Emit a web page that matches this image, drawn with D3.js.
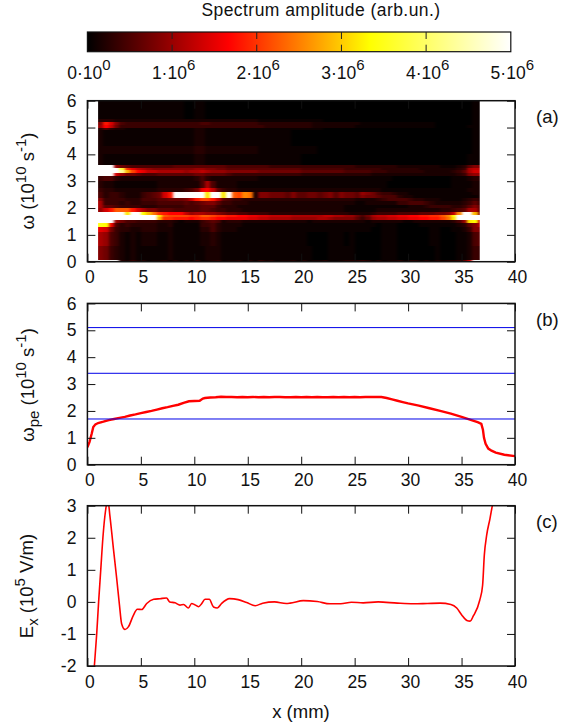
<!DOCTYPE html>
<html>
<head>
<meta charset="utf-8">
<script src="https://d3js.org/d3.v7.min.js"></script>
<style>
body { margin: 0; background: #fff; }
text { font-family: "Liberation Sans", Arial, sans-serif; fill: #111; }
</style>
</head>
<body>
<div id="chart"></div>
<script>
// ---- data ----
var xTicks = [0, 5, 10, 15, 20, 25, 30, 35, 40];
var omegaTicks = [0, 1, 2, 3, 4, 5, 6];
var fieldTicks = [-2, -1, 0, 1, 2, 3];
var barTicks = [0, 1e6, 2e6, 3e6, 4e6, 5e6];
var barExponents = [0, 6, 6, 6, 6, 6];

// spectrum: one row per omega band, one base-36 digit per column
// columns start at x = 1 mm and are 0.5 mm wide, blocks of 8 = 4 mm
var omegaEdges = [0, .08, .6, 1.1, 1.3, 1.45, 1.55, 1.65, 1.75, 1.85, 2, 2.13, 2.27, 2.38, 2.49, 2.6, 2.75, 3, 3.2, 3.3, 3.4, 3.5, 3.6, 4, 4.3, 4.9, 5, 5.1, 5.2, 5.3, 6];
var specRows = [
  "zzzz3242 31223131 31412341 22313142 31223131 22311233 34313122 31331313 23346czz",
  "87432121 11111211 11112221 11111111 11111111 00011111 00000111 00000001 00011244",
  "a9542121 22211211 11122321 11111111 11111110 00011101 00000111 00000011 00011256",
  "dc743322 33322211 11133532 22111111 11111111 11111111 11100111 00000011 00112488",
  "qpd53433 33322311 11144532 22211111 11111111 11111111 11110111 00001111 1112368b",
  "zzz97554 44433321 22245652 33322222 22222221 22222222 22122222 21122222 22359opc",
  "zzzzzzzz zzzmggff fefggfee ddddccbb aaaa9999 9aa98888 6469aabb ccddeeff hjozzzzz",
  "zzzzzzzz zzzoihhh hggiihgg ffeeddcc bbbbaaaa aabbaa99 757abbcc ddeeffgg ikpzzzzz",
  "zzzzzozz pmjgfeee b9aa9987 66554444 33333333 33333332 22234444 55556667 78bkzzm8",
  "9cfiiifc a8866655 55566544 33322222 22222222 22222211 11112222 22222222 33456aa6",
  "a6654444 33344444 55566643 33222222 22222222 22222211 11111111 11222344 44334686",
  "a4443433 44455555 65678864 43332222 22222222 22222222 11222222 44555432 22223464",
  "84444333 55566777 8bfhhfb6 54433333 33333333 33333333 22223455 55433222 11112343",
  "53443222 4567cfzz zzzzozzo zihkj288 77768667 76786877 68776555 32211111 11111112",
  "53443222 4567cfzz zzzzozzo zihkj288 77768667 76786877 69875443 22111111 11111122",
  "43322222 22233333 457deb64 33222222 22222222 22222222 22222111 11111111 11111222",
  "32211111 11122222 2225a522 22111111 11111111 11111111 11111100 00000000 00111122",
  "45532222 22222222 22353222 22222211 11111111 11111111 11111110 00000000 00111233",
  "zzzc9776 55566666 66776666 54444444 44444433 33333333 33322222 22222222 22234899",
  "zzzzvmhe dbbaaaaa 9aaba999 88888877 77777766 66666655 55544433 33333222 22346acc",
  "zzzzrgdb a9888888 88998877 66666666 66666655 55555544 44444333 33332222 22234abb",
  "zzz97655 55555566 66666666 55555555 44444444 44444444 33333333 22222222 11123688",
  "21111111 11111111 11221111 11111111 11111100 00000000 00000000 00000000 00000111",
  "22222222 22222222 22332222 22222211 11111111 10000000 00000000 00000000 00000011",
  "21111111 11111111 11221111 11111111 11110000 00000000 00000000 00000000 00000011",
  "35322111 11111111 11221111 11111111 11111111 11000000 00000000 00000000 00000011",
  "9eb74444 44444444 44444444 44444443 33333333 22222222 11111111 11111110 00000111",
  "8fc85444 44444444 44455444 44444433 33333333 22222222 21111111 11111110 00000011",
  "33322222 22222222 22222222 22222211 11111111 11000000 00000000 00000000 00000011",
  "11111111 11111111 00110000 00000000 00000000 00000000 00000000 00000000 00000011"
];

// plasma frequency profile
var peX = [0, .2, .4, .55, .75, 1, 1.5, 2, 2.5, 3, 3.5, 4, 4.5, 5, 5.5, 6, 6.5, 7, 7.5, 8, 8.5, 9, 9.5, 10, 10.5, 10.8, 11, 11.5, 12, 12.5, 13, 13.5, 14, 14.5, 15, 15.5, 16, 16.5, 17, 17.5, 18, 18.5, 19, 19.5, 20, 20.5, 21, 21.5, 22, 22.5, 23, 23.5, 24, 24.5, 25, 25.5, 26, 26.5, 27, 27.5, 28, 28.5, 29, 29.5, 30, 31, 32, 33, 34, 35, 36, 36.5, 36.85, 37, 37.1, 37.25, 37.5, 37.8, 38.2, 39, 40];
var peY = [.65, .85, 1.15, 1.4, 1.5, 1.55, 1.6, 1.66, 1.7, 1.74, 1.78, 1.83, 1.87, 1.92, 1.96, 2, 2.05, 2.1, 2.14, 2.19, 2.23, 2.3, 2.36, 2.37, 2.38, 2.46, 2.48, 2.5, 2.51, 2.53, 2.52, 2.52, 2.51, 2.52, 2.51, 2.52, 2.51, 2.52, 2.51, 2.52, 2.52, 2.51, 2.51, 2.52, 2.51, 2.52, 2.51, 2.52, 2.51, 2.51, 2.52, 2.51, 2.52, 2.51, 2.52, 2.51, 2.52, 2.52, 2.52, 2.52, 2.48, 2.43, 2.38, 2.33, 2.28, 2.2, 2.1, 2, 1.9, 1.78, 1.65, 1.58, 1.52, 1.3, 1, .78, .6, .52, .45, .37, .32];
var harmonics = [5.1, 3.4, 1.7];

// electric field
var fieldX = [.3, .65, .87, 1.05, 1.25, 1.45, 1.7, 1.8, 1.95, 2.1, 2.43, 2.74, 3, 3.2, 3.52, 3.83, 4.3, 4.67, 5.08, 5.55, 6.2, 6.8, 7.4, 7.7, 8.2, 8.66, 9, 9.45, 9.75, 10, 10.4, 10.7, 11, 11.4, 11.8, 12.15, 12.55, 13.3, 14.1, 14.9, 15.7, 16.4, 17.5, 18.6, 18.96, 20.2, 21.5, 22.7, 23.7, 24.7, 25.8, 27.2, 29, 30.5, 31.8, 33, 34, 34.55, 35, 35.5, 35.8, 36.1, 36.7, 36.97, 37.13, 37.35, 37.66, 37.88, 38.2];
var fieldY = [-3.4, -2, -1, 0, 1, 2, 2.85, 3.05, 3.1, 2.7, 1.67, .73, -.1, -.68, -.86, -.78, -.42, -.23, -.24, -.05, .08, .1, .12, 0, -.03, -.1, -.08, -.19, -.05, -.08, -.15, -.05, .08, .08, -.16, -.19, -.05, .1, .07, -.02, -.12, -.04, 0, -.05, -.04, .04, .01, -.06, -.06, -.01, -.03, 0, -.04, -.06, -.05, -.04, -.08, -.19, -.4, -.58, -.6, -.44, .05, .52, 1.46, 2.08, 2.6, 3, 3.5];

// ---- layout ----
var W = 580, H = 727;
var left = 87.4, right = 515;
var tickFont = 17.5, titleFont = 18.5, supFont = 15;
var panels = {
  a: { top: 100.7, bottom: 261.7 },
  b: { top: 303.4, bottom: 464.7 },
  c: { top: 505.7, bottom: 666 }
};

var svg = d3.select("#chart").append("svg").attr("width", W).attr("height", H);

var x = d3.scaleLinear().domain([0, 40]).range([left, right]);
var yA = d3.scaleLinear().domain([0, 6]).range([panels.a.bottom, panels.a.top]);
var yB = d3.scaleLinear().domain([0, 6]).range([panels.b.bottom, panels.b.top]);
var yC = d3.scaleLinear().domain([-2, 3]).range([panels.c.bottom, panels.c.top]);

// gnuplot 21,22,23 palette
var hot = d3.scaleLinear().domain([0, 5e6 / 3, 1e7 / 3, 5e6])
  .range(["#000000", "#ff0000", "#ffff00", "#ffffff"]).clamp(true);

// ---- colour bar ----
var barX = d3.scaleLinear().domain([0, 5e6]).range([87.4, 510.8]);
var barTop = 32, barBottom = 51.7;
var grad = svg.append("defs").append("linearGradient").attr("id", "hotbar");
grad.selectAll("stop").data(hot.domain()).enter().append("stop")
  .attr("offset", function (d) { return d / 5e6; })
  .attr("stop-color", function (d) { return hot(d); });
svg.append("rect").attr("x", barX(0)).attr("y", barTop)
  .attr("width", barX(5e6) - barX(0)).attr("height", barBottom - barTop)
  .attr("fill", "url(#hotbar)").attr("stroke", "#111").attr("stroke-width", 1.2);
barTicks.slice(1, -1).forEach(function (t) {
  svg.append("line").attr("x1", barX(t)).attr("x2", barX(t)).attr("y1", barTop).attr("y2", barTop + 7).attr("stroke", "#222");
  svg.append("line").attr("x1", barX(t)).attr("x2", barX(t)).attr("y1", barBottom - 7).attr("y2", barBottom).attr("stroke", "#222");
});
svg.selectAll(".barlabel").data(barTicks).enter().append("text")
  .attr("class", "barlabel").attr("x", function (d) { return barX(d) + 1.5; }).attr("y", 79.3)
  .attr("text-anchor", "middle").attr("font-size", tickFont)
  .each(function (d, i) {
    var t = d3.select(this);
    t.append("tspan").text((d / (i ? 1e6 : 1)) + "\u00b710");
    t.append("tspan").attr("dy", -9).attr("font-size", supFont).text(barExponents[i]);
  });
svg.append("text").attr("x", 321).attr("y", 16).attr("text-anchor", "middle")
  .attr("font-size", 17.5).attr("letter-spacing", 0.45).text("Spectrum amplitude (arb.un.)");

// ---- panel (a) heat map ----
var defs = svg.select("defs");
var soft = defs.append("filter").attr("id", "soft").attr("color-interpolation-filters", "sRGB")
  .attr("x", "-2%").attr("y", "-2%").attr("width", "104%").attr("height", "104%");
soft.append("feGaussianBlur").attr("stdDeviation", "1.6 0.35");
defs.append("clipPath").attr("id", "clipA").append("rect")
  .attr("x", x(1)).attr("width", x(36.7) - x(1)).attr("y", panels.a.top).attr("height", panels.a.bottom - panels.a.top);

var cells = [];
specRows.forEach(function (row, r) {
  row.replace(/ /g, "").split("").forEach(function (c, i, all) {
    // digit to amplitude, low levels stay close to black as in the picture
    var amp = Math.pow(parseInt(c, 36) / 35, 1.2) * 5e6;
    cells.push({
      x0: i === 0 ? 0.5 : 1 + i * 0.5,
      x1: i === all.length - 1 ? 37.5 : 1.5 + i * 0.5,
      w0: r === 0 ? -0.3 : omegaEdges[r],
      w1: r === specRows.length - 1 ? 6.3 : omegaEdges[r + 1],
      amp: amp
    });
  });
});
svg.append("g").attr("clip-path", "url(#clipA)")
  .append("g").attr("filter", "url(#soft)")
  .selectAll("rect").data(cells).enter().append("rect")
  .attr("x", function (d) { return x(d.x0); })
  .attr("width", function (d) { return x(d.x1) - x(d.x0); })
  .attr("y", function (d) { return yA(d.w1); })
  .attr("height", function (d) { return yA(d.w0) - yA(d.w1); })
  .attr("fill", function (d) { return hot(d.amp); })
  .attr("shape-rendering", "crispEdges");

// ---- panel (b), (c) curves ----
defs.append("clipPath").attr("id", "clipB").append("rect").attr("x", left).attr("y", panels.b.top).attr("width", right - left).attr("height", panels.b.bottom - panels.b.top);
defs.append("clipPath").attr("id", "clipC").append("rect").attr("x", left).attr("y", panels.c.top).attr("width", right - left).attr("height", panels.c.bottom - panels.c.top);

var peLine = d3.line().x(function (d, i) { return x(peX[i]); }).y(function (d) { return yB(d); });
svg.append("path").attr("d", peLine(peY)).attr("fill", "none").attr("stroke", "#ff0000").attr("stroke-width", 2.4).attr("clip-path", "url(#clipB)");
svg.selectAll(".harm").data(harmonics).enter().append("line").attr("class", "harm")
  .attr("x1", left).attr("x2", right)
  .attr("y1", function (d) { return yB(d); }).attr("y2", function (d) { return yB(d); })
  .attr("stroke", "#0000e8").attr("stroke-width", 1);

var fieldLine = d3.line().curve(d3.curveMonotoneX).x(function (d, i) { return x(fieldX[i]); }).y(function (d) { return yC(d); });
svg.append("path").attr("d", fieldLine(fieldY)).attr("fill", "none").attr("stroke", "#ff0000").attr("stroke-width", 1.6).attr("clip-path", "url(#clipC)");

// ---- axes ----
function frame(p, y, yTicks, labelGap) {
  var g = svg.append("g");
  g.append("g").attr("transform", "translate(0," + p.bottom + ")")
    .call(d3.axisBottom(x).tickValues(xTicks).tickSize(-8).tickPadding(labelGap))
    .call(function (s) { s.selectAll("text").attr("dx", 2); });
  g.append("g").attr("transform", "translate(0," + p.top + ")")
    .call(d3.axisTop(x).tickValues(xTicks).tickSize(-8).tickFormat(""));
  g.append("g").attr("transform", "translate(" + left + ",0)")
    .call(d3.axisLeft(y).tickValues(yTicks).tickSize(-8).tickPadding(11).tickFormat(function (d) { return d; }));
  g.append("g").attr("transform", "translate(" + right + ",0)")
    .call(d3.axisRight(y).tickValues(yTicks).tickSize(-8).tickFormat(""));
  g.selectAll(".domain").remove();
  g.selectAll("text").attr("font-size", tickFont).attr("font-family", null);
  g.selectAll(".tick line").attr("stroke", "#111");
  g.append("rect").attr("x", left).attr("y", p.top).attr("width", right - left).attr("height", p.bottom - p.top)
    .attr("fill", "none").attr("stroke", "#111").attr("stroke-width", 1.5);
}
frame(panels.a, yA, omegaTicks, 9);
frame(panels.b, yB, omegaTicks, 9);
frame(panels.c, yC, fieldTicks, 10);

// ---- titles ----
function yTitle(cx, cy, parts) {
  var t = svg.append("text").attr("transform", "translate(" + cx + "," + cy + ")rotate(-90)")
    .attr("text-anchor", "middle").attr("font-size", titleFont);
  var shift = 0;
  parts.forEach(function (p) {
    var s = t.append("tspan").text(p[0]).attr("dy", p[1] - shift);
    if (p[1] !== 0) s.attr("font-size", supFont);
    shift = p[1];
  });
}
yTitle(34, 181, [["\u03c9 (10", 0], ["10", -8], [" s", 0], ["-1", -8], [")", 0]]);
yTitle(34, 385, [["\u03c9", 0], ["pe", 5], [" (10", 0], ["10", -8], [" s", 0], ["-1", -8], [")", 0]]);
yTitle(33, 586, [["E", 0], ["x", 5], [" (10", 0], ["5", -8], [" V/m)", 0]]);

svg.append("text").attr("x", 301).attr("y", 718).attr("text-anchor", "middle").attr("font-size", titleFont).text("x (mm)");
svg.append("text").attr("x", 536).attr("y", 123).attr("font-size", titleFont).text("(a)");
svg.append("text").attr("x", 536).attr("y", 326).attr("font-size", titleFont).text("(b)");
svg.append("text").attr("x", 536).attr("y", 528).attr("font-size", titleFont).text("(c)");
</script>
</body>
</html>
